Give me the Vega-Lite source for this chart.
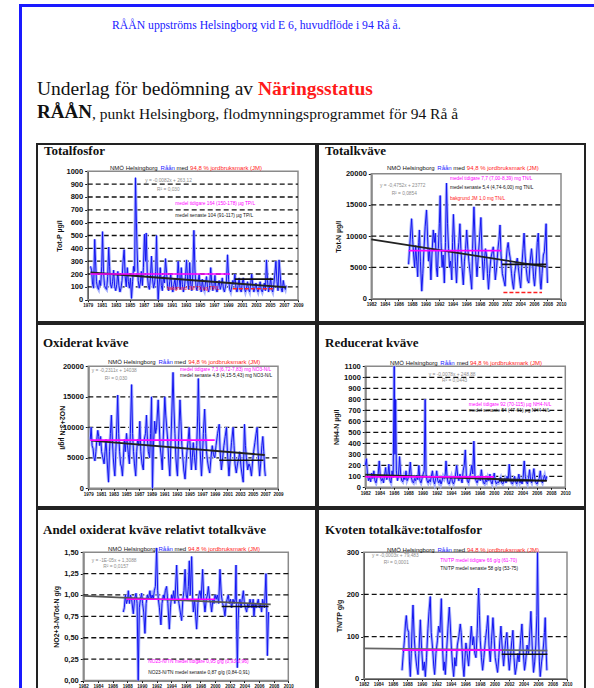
{
"$schema": "https://vega.github.io/schema/vega-lite/v6.json",
"padding": {"left": 19, "top": 4, "right": 0, "bottom": 0},
"background": "white",
"spacing": 0,
"config": {
  "view": {"stroke": null},
  "font": "Liberation Sans",
  "axis": {"grid": false, "domainColor": "#111", "domainWidth": 1.2, "tickColor": "#111", "tickSize": 3, "tickWidth": 1, "labelColor": "#111", "labelFont": "Liberation Sans", "labelFontWeight": "bold", "labelPadding": 2, "labelOverlap": false, "labelFlush": false, "labelBound": false, "titleFont": "Liberation Sans", "titleFontWeight": "bold", "titleFontSize": 7, "titleColor": "#111", "titlePadding": 4},
  "axisX": {"labelFontSize": 4.5, "tickSize": 2, "labelPadding": 1},
  "axisY": {"labelFontSize": 7.5},
  "text": {"font": "Liberation Sans", "fontSize": 4.8, "align": "left", "baseline": "middle"},
  "title": {"anchor": "start", "frame": "group", "baseline": "alphabetic", "font": "Liberation Serif", "fontWeight": "bold", "fontSize": 13, "color": "#111"}
},
"datasets": {
"tp": [{"t":1979.4,"v":260},{"t":1979.55,"v":230},{"t":1979.7,"v":120},{"t":1979.85,"v":90},{"t":1980.0,"v":470},{"t":1980.12,"v":300},{"t":1980.25,"v":140},{"t":1980.4,"v":95},{"t":1980.55,"v":80},{"t":1980.7,"v":150},{"t":1980.85,"v":110},{"t":1981.0,"v":260},{"t":1981.12,"v":530},{"t":1981.25,"v":220},{"t":1981.4,"v":110},{"t":1981.55,"v":90},{"t":1981.7,"v":80},{"t":1981.85,"v":180},{"t":1982.0,"v":410},{"t":1982.12,"v":260},{"t":1982.25,"v":120},{"t":1982.4,"v":90},{"t":1982.55,"v":140},{"t":1982.7,"v":230},{"t":1982.85,"v":100},{"t":1983.0,"v":70},{"t":1983.15,"v":120},{"t":1983.3,"v":220},{"t":1983.45,"v":110},{"t":1983.6,"v":60},{"t":1983.75,"v":90},{"t":1983.9,"v":150},{"t":1984.05,"v":300},{"t":1984.2,"v":390},{"t":1984.35,"v":180},{"t":1984.5,"v":100},{"t":1984.65,"v":250},{"t":1984.8,"v":140},{"t":1984.95,"v":90},{"t":1985.1,"v":170},{"t":1985.25,"v":10},{"t":1985.4,"v":140},{"t":1985.55,"v":260},{"t":1985.7,"v":220},{"t":1985.82,"v":950},{"t":1985.95,"v":600},{"t":1986.05,"v":380},{"t":1986.2,"v":150},{"t":1986.35,"v":90},{"t":1986.5,"v":130},{"t":1986.65,"v":220},{"t":1986.8,"v":110},{"t":1986.95,"v":250},{"t":1987.1,"v":510},{"t":1987.25,"v":300},{"t":1987.35,"v":520},{"t":1987.5,"v":200},{"t":1987.65,"v":110},{"t":1987.8,"v":80},{"t":1987.95,"v":170},{"t":1988.1,"v":340},{"t":1988.25,"v":160},{"t":1988.4,"v":90},{"t":1988.55,"v":130},{"t":1988.7,"v":220},{"t":1988.82,"v":500},{"t":1988.95,"v":160},{"t":1989.05,"v":0},{"t":1989.2,"v":130},{"t":1989.35,"v":250},{"t":1989.5,"v":110},{"t":1989.65,"v":70},{"t":1989.8,"v":180},{"t":1989.95,"v":130},{"t":1990.1,"v":320},{"t":1990.25,"v":210},{"t":1990.4,"v":100},{"t":1990.55,"v":70},{"t":1990.7,"v":140},{"t":1990.85,"v":200},{"t":1991.0,"v":90},{"t":1991.15,"v":60},{"t":1991.3,"v":120},{"t":1991.45,"v":160},{"t":1991.6,"v":80},{"t":1991.75,"v":110},{"t":1991.9,"v":300},{"t":1992.05,"v":170},{"t":1992.2,"v":80},{"t":1992.35,"v":250},{"t":1992.5,"v":120},{"t":1992.65,"v":60},{"t":1992.8,"v":100},{"t":1992.95,"v":180},{"t":1993.1,"v":310},{"t":1993.25,"v":150},{"t":1993.4,"v":80},{"t":1993.55,"v":290},{"t":1993.7,"v":120},{"t":1993.85,"v":70},{"t":1994.0,"v":200},{"t":1994.15,"v":540},{"t":1994.3,"v":230},{"t":1994.45,"v":100},{"t":1994.6,"v":70},{"t":1994.75,"v":140},{"t":1994.9,"v":200},{"t":1995.05,"v":100},{"t":1995.2,"v":60},{"t":1995.35,"v":160},{"t":1995.5,"v":90},{"t":1995.65,"v":70},{"t":1995.8,"v":130},{"t":1995.95,"v":180},{"t":1996.1,"v":90},{"t":1996.25,"v":60},{"t":1996.4,"v":110},{"t":1996.55,"v":250},{"t":1996.7,"v":130},{"t":1996.85,"v":70},{"t":1997.0,"v":100},{"t":1997.15,"v":190},{"t":1997.3,"v":90},{"t":1997.45,"v":60},{"t":1997.6,"v":110},{"t":1997.75,"v":150},{"t":1997.9,"v":80},{"t":1998.05,"v":110},{"t":1998.2,"v":170},{"t":1998.35,"v":90},{"t":1998.5,"v":60},{"t":1998.65,"v":100},{"t":1998.8,"v":140},{"t":1998.95,"v":350},{"t":1999.1,"v":160},{"t":1999.25,"v":80},{"t":1999.4,"v":60},{"t":1999.55,"v":100},{"t":1999.7,"v":150},{"t":1999.85,"v":120},{"t":2000.0,"v":200},{"t":2000.15,"v":90},{"t":2000.3,"v":60},{"t":2000.45,"v":110},{"t":2000.6,"v":170},{"t":2000.75,"v":80},{"t":2000.9,"v":60},{"t":2001.05,"v":130},{"t":2001.2,"v":170},{"t":2001.35,"v":90},{"t":2001.5,"v":60},{"t":2001.65,"v":90},{"t":2001.8,"v":140},{"t":2001.95,"v":80},{"t":2002.1,"v":60},{"t":2002.25,"v":120},{"t":2002.4,"v":200},{"t":2002.55,"v":110},{"t":2002.7,"v":60},{"t":2002.85,"v":90},{"t":2003.0,"v":130},{"t":2003.15,"v":80},{"t":2003.3,"v":60},{"t":2003.45,"v":100},{"t":2003.6,"v":140},{"t":2003.75,"v":80},{"t":2003.9,"v":60},{"t":2004.05,"v":90},{"t":2004.2,"v":130},{"t":2004.35,"v":70},{"t":2004.5,"v":310},{"t":2004.65,"v":150},{"t":2004.8,"v":60},{"t":2004.95,"v":100},{"t":2005.1,"v":170},{"t":2005.25,"v":80},{"t":2005.4,"v":60},{"t":2005.55,"v":120},{"t":2005.7,"v":200},{"t":2005.85,"v":300},{"t":2006.0,"v":140},{"t":2006.15,"v":70},{"t":2006.3,"v":310},{"t":2006.45,"v":200},{"t":2006.6,"v":90},{"t":2006.75,"v":60},{"t":2006.9,"v":150},{"t":2007.05,"v":100},{"t":2007.2,"v":80},{"t":2007.3,"v":110}],
"tn": [{"t":1987.5,"v":5500},{"t":1987.65,"v":8000},{"t":1987.8,"v":10500},{"t":1987.95,"v":12800},{"t":1988.1,"v":9500},{"t":1988.25,"v":7000},{"t":1988.4,"v":5000},{"t":1988.55,"v":8500},{"t":1988.7,"v":6000},{"t":1988.85,"v":3500},{"t":1989.0,"v":9000},{"t":1989.1,"v":11000},{"t":1989.25,"v":6000},{"t":1989.45,"v":1200},{"t":1989.6,"v":4000},{"t":1989.75,"v":7500},{"t":1989.95,"v":11500},{"t":1990.15,"v":14200},{"t":1990.3,"v":10000},{"t":1990.45,"v":6000},{"t":1990.6,"v":8000},{"t":1990.8,"v":3000},{"t":1990.95,"v":7000},{"t":1991.15,"v":11000},{"t":1991.3,"v":9000},{"t":1991.45,"v":10500},{"t":1991.6,"v":5000},{"t":1991.75,"v":3500},{"t":1991.9,"v":8000},{"t":1992.05,"v":12000},{"t":1992.17,"v":16500},{"t":1992.3,"v":9000},{"t":1992.45,"v":5000},{"t":1992.6,"v":7000},{"t":1992.78,"v":2500},{"t":1992.95,"v":9000},{"t":1993.1,"v":18500},{"t":1993.25,"v":12000},{"t":1993.4,"v":8000},{"t":1993.55,"v":5000},{"t":1993.7,"v":6000},{"t":1993.88,"v":3000},{"t":1994.0,"v":9000},{"t":1994.12,"v":13500},{"t":1994.25,"v":10000},{"t":1994.4,"v":6000},{"t":1994.58,"v":2500},{"t":1994.75,"v":7000},{"t":1994.92,"v":9000},{"t":1995.08,"v":12000},{"t":1995.22,"v":8000},{"t":1995.4,"v":5000},{"t":1995.58,"v":2200},{"t":1995.75,"v":6000},{"t":1995.92,"v":8000},{"t":1996.08,"v":11000},{"t":1996.25,"v":8000},{"t":1996.4,"v":6000},{"t":1996.6,"v":4000},{"t":1996.82,"v":1500},{"t":1996.95,"v":8000},{"t":1997.15,"v":14700},{"t":1997.3,"v":10000},{"t":1997.45,"v":6000},{"t":1997.6,"v":3500},{"t":1997.8,"v":7000},{"t":1998.0,"v":10000},{"t":1998.18,"v":13000},{"t":1998.35,"v":7000},{"t":1998.55,"v":3000},{"t":1998.7,"v":6000},{"t":1998.85,"v":8000},{"t":1999.0,"v":7000},{"t":1999.15,"v":4000},{"t":1999.3,"v":1500},{"t":1999.45,"v":4000},{"t":1999.65,"v":6500},{"t":1999.85,"v":7500},{"t":2000.0,"v":8300},{"t":2000.15,"v":6000},{"t":2000.3,"v":3000},{"t":2000.5,"v":5000},{"t":2000.7,"v":8000},{"t":2000.85,"v":9500},{"t":2001.0,"v":11800},{"t":2001.15,"v":7000},{"t":2001.35,"v":4000},{"t":2001.55,"v":3000},{"t":2001.75,"v":2000},{"t":2001.9,"v":6000},{"t":2002.05,"v":8000},{"t":2002.2,"v":9000},{"t":2002.35,"v":7500},{"t":2002.5,"v":6500},{"t":2002.7,"v":4000},{"t":2002.85,"v":2500},{"t":2003.0,"v":1500},{"t":2003.15,"v":4000},{"t":2003.35,"v":5500},{"t":2003.55,"v":6500},{"t":2003.7,"v":5000},{"t":2003.9,"v":3000},{"t":2004.05,"v":1700},{"t":2004.2,"v":5000},{"t":2004.4,"v":8000},{"t":2004.55,"v":10500},{"t":2004.7,"v":7000},{"t":2004.85,"v":5000},{"t":2005.05,"v":3000},{"t":2005.25,"v":2500},{"t":2005.45,"v":6000},{"t":2005.65,"v":8000},{"t":2005.8,"v":6000},{"t":2005.95,"v":3500},{"t":2006.1,"v":2000},{"t":2006.3,"v":5000},{"t":2006.5,"v":9000},{"t":2006.65,"v":10500},{"t":2006.8,"v":6000},{"t":2006.95,"v":2500},{"t":2007.05,"v":1500},{"t":2007.2,"v":4000},{"t":2007.4,"v":7000},{"t":2007.55,"v":7500},{"t":2007.7,"v":10000},{"t":2007.8,"v":12000},{"t":2007.9,"v":6000},{"t":2008.0,"v":2500}],
"no3": [{"t":1979.3,"v":8000},{"t":1979.45,"v":10000},{"t":1979.6,"v":7000},{"t":1979.75,"v":6500},{"t":1979.9,"v":5000},{"t":1980.05,"v":4500},{"t":1980.2,"v":6000},{"t":1980.35,"v":8000},{"t":1980.5,"v":9500},{"t":1980.65,"v":8500},{"t":1980.8,"v":7000},{"t":1980.95,"v":8500},{"t":1981.1,"v":6000},{"t":1981.3,"v":5000},{"t":1981.5,"v":4000},{"t":1981.65,"v":6000},{"t":1981.8,"v":8000},{"t":1981.95,"v":5000},{"t":1982.1,"v":2500},{"t":1982.2,"v":1000},{"t":1982.35,"v":6000},{"t":1982.5,"v":9000},{"t":1982.65,"v":12000},{"t":1982.8,"v":8000},{"t":1982.95,"v":5000},{"t":1983.1,"v":3000},{"t":1983.2,"v":2000},{"t":1983.35,"v":6000},{"t":1983.5,"v":10000},{"t":1983.65,"v":15300},{"t":1983.8,"v":9000},{"t":1983.95,"v":6000},{"t":1984.1,"v":4000},{"t":1984.25,"v":3500},{"t":1984.4,"v":2000},{"t":1984.55,"v":5000},{"t":1984.7,"v":8000},{"t":1984.85,"v":6000},{"t":1985.05,"v":9000},{"t":1985.2,"v":7000},{"t":1985.35,"v":5500},{"t":1985.5,"v":4000},{"t":1985.65,"v":9000},{"t":1985.85,"v":17000},{"t":1986.0,"v":9000},{"t":1986.15,"v":6000},{"t":1986.3,"v":4000},{"t":1986.5,"v":2000},{"t":1986.65,"v":6000},{"t":1986.8,"v":8000},{"t":1987.0,"v":7000},{"t":1987.15,"v":11000},{"t":1987.3,"v":6000},{"t":1987.5,"v":4000},{"t":1987.7,"v":3000},{"t":1987.85,"v":8000},{"t":1988.05,"v":9000},{"t":1988.2,"v":12000},{"t":1988.35,"v":8000},{"t":1988.5,"v":6000},{"t":1988.7,"v":5000},{"t":1988.85,"v":9000},{"t":1989.0,"v":15000},{"t":1989.15,"v":0},{"t":1989.3,"v":7000},{"t":1989.5,"v":11000},{"t":1989.65,"v":9000},{"t":1989.8,"v":10000},{"t":1990.05,"v":14500},{"t":1990.2,"v":11000},{"t":1990.35,"v":7000},{"t":1990.55,"v":5000},{"t":1990.7,"v":3000},{"t":1990.85,"v":8000},{"t":1991.1,"v":15000},{"t":1991.25,"v":12000},{"t":1991.4,"v":10000},{"t":1991.55,"v":8000},{"t":1991.75,"v":4000},{"t":1991.9,"v":2000},{"t":1992.05,"v":7000},{"t":1992.2,"v":12000},{"t":1992.4,"v":19000},{"t":1992.55,"v":13000},{"t":1992.7,"v":9000},{"t":1992.85,"v":5000},{"t":1993.0,"v":3000},{"t":1993.1,"v":2000},{"t":1993.25,"v":7000},{"t":1993.5,"v":14500},{"t":1993.65,"v":11000},{"t":1993.8,"v":7000},{"t":1993.95,"v":5000},{"t":1994.1,"v":3000},{"t":1994.3,"v":1500},{"t":1994.45,"v":4000},{"t":1994.6,"v":6000},{"t":1994.8,"v":8000},{"t":1994.95,"v":10000},{"t":1995.1,"v":7000},{"t":1995.3,"v":3000},{"t":1995.45,"v":5000},{"t":1995.6,"v":7500},{"t":1995.8,"v":5000},{"t":1996.0,"v":3000},{"t":1996.15,"v":7000},{"t":1996.3,"v":12000},{"t":1996.4,"v":18000},{"t":1996.55,"v":11000},{"t":1996.7,"v":6000},{"t":1996.9,"v":2000},{"t":1997.05,"v":5000},{"t":1997.2,"v":9000},{"t":1997.4,"v":13000},{"t":1997.55,"v":9000},{"t":1997.7,"v":6000},{"t":1997.85,"v":4500},{"t":1998.0,"v":3500},{"t":1998.2,"v":2500},{"t":1998.4,"v":5000},{"t":1998.6,"v":7000},{"t":1998.8,"v":5500},{"t":1999.0,"v":5000},{"t":1999.2,"v":7000},{"t":1999.45,"v":9000},{"t":1999.7,"v":10500},{"t":1999.85,"v":6000},{"t":2000.05,"v":3000},{"t":2000.25,"v":5000},{"t":2000.45,"v":7000},{"t":2000.65,"v":8500},{"t":2000.85,"v":10000},{"t":2001.0,"v":6000},{"t":2001.15,"v":3500},{"t":2001.25,"v":2000},{"t":2001.45,"v":5000},{"t":2001.65,"v":7500},{"t":2001.9,"v":10000},{"t":2002.05,"v":7000},{"t":2002.2,"v":4000},{"t":2002.4,"v":2500},{"t":2002.6,"v":4000},{"t":2002.8,"v":5000},{"t":2002.95,"v":6000},{"t":2003.15,"v":3500},{"t":2003.35,"v":2000},{"t":2003.5,"v":1000},{"t":2003.6,"v":6000},{"t":2003.7,"v":10500},{"t":2003.85,"v":7000},{"t":2004.0,"v":5000},{"t":2004.2,"v":3000},{"t":2004.4,"v":4000},{"t":2004.6,"v":3500},{"t":2004.8,"v":2000},{"t":2004.95,"v":4000},{"t":2005.15,"v":6000},{"t":2005.35,"v":7500},{"t":2005.55,"v":9000},{"t":2005.7,"v":10000},{"t":2005.85,"v":6000},{"t":2006.0,"v":3500},{"t":2006.1,"v":2000},{"t":2006.25,"v":4000},{"t":2006.45,"v":7000},{"t":2006.6,"v":8500},{"t":2006.75,"v":6000},{"t":2006.9,"v":3000},{"t":2007.0,"v":2000}],
"nh4": [{"t":1982.0,"v":200},{"t":1982.15,"v":260},{"t":1982.3,"v":120},{"t":1982.45,"v":60},{"t":1982.6,"v":90},{"t":1982.75,"v":50},{"t":1982.9,"v":130},{"t":1983.05,"v":80},{"t":1983.2,"v":150},{"t":1983.35,"v":60},{"t":1983.5,"v":40},{"t":1983.65,"v":90},{"t":1983.8,"v":120},{"t":1983.95,"v":240},{"t":1984.1,"v":100},{"t":1984.25,"v":60},{"t":1984.4,"v":80},{"t":1984.55,"v":40},{"t":1984.7,"v":110},{"t":1984.85,"v":180},{"t":1985.0,"v":70},{"t":1985.15,"v":100},{"t":1985.3,"v":210},{"t":1985.45,"v":60},{"t":1985.6,"v":40},{"t":1985.75,"v":150},{"t":1985.9,"v":90},{"t":1986.05,"v":1100},{"t":1986.15,"v":300},{"t":1986.25,"v":800},{"t":1986.35,"v":150},{"t":1986.5,"v":60},{"t":1986.65,"v":100},{"t":1986.8,"v":280},{"t":1986.95,"v":120},{"t":1987.1,"v":60},{"t":1987.25,"v":50},{"t":1987.4,"v":100},{"t":1987.55,"v":70},{"t":1987.7,"v":150},{"t":1987.85,"v":60},{"t":1988.0,"v":80},{"t":1988.15,"v":120},{"t":1988.3,"v":230},{"t":1988.45,"v":90},{"t":1988.6,"v":50},{"t":1988.75,"v":40},{"t":1988.9,"v":80},{"t":1989.05,"v":60},{"t":1989.2,"v":110},{"t":1989.35,"v":70},{"t":1989.5,"v":200},{"t":1989.65,"v":60},{"t":1989.8,"v":40},{"t":1989.95,"v":80},{"t":1990.1,"v":120},{"t":1990.25,"v":150},{"t":1990.38,"v":800},{"t":1990.5,"v":120},{"t":1990.65,"v":60},{"t":1990.8,"v":40},{"t":1990.95,"v":70},{"t":1991.1,"v":50},{"t":1991.25,"v":100},{"t":1991.4,"v":150},{"t":1991.55,"v":60},{"t":1991.7,"v":30},{"t":1991.85,"v":80},{"t":1992.0,"v":150},{"t":1992.15,"v":60},{"t":1992.3,"v":40},{"t":1992.45,"v":70},{"t":1992.6,"v":30},{"t":1992.75,"v":60},{"t":1992.9,"v":100},{"t":1993.05,"v":80},{"t":1993.2,"v":120},{"t":1993.3,"v":240},{"t":1993.45,"v":90},{"t":1993.6,"v":40},{"t":1993.75,"v":30},{"t":1993.9,"v":70},{"t":1994.05,"v":100},{"t":1994.2,"v":50},{"t":1994.35,"v":30},{"t":1994.5,"v":60},{"t":1994.65,"v":120},{"t":1994.8,"v":200},{"t":1994.95,"v":90},{"t":1995.1,"v":60},{"t":1995.25,"v":120},{"t":1995.4,"v":80},{"t":1995.55,"v":40},{"t":1995.7,"v":150},{"t":1995.85,"v":200},{"t":1996.0,"v":340},{"t":1996.15,"v":100},{"t":1996.3,"v":60},{"t":1996.45,"v":40},{"t":1996.6,"v":90},{"t":1996.75,"v":130},{"t":1996.9,"v":200},{"t":1997.05,"v":120},{"t":1997.2,"v":420},{"t":1997.35,"v":100},{"t":1997.5,"v":60},{"t":1997.65,"v":40},{"t":1997.8,"v":70},{"t":1997.95,"v":90},{"t":1998.1,"v":60},{"t":1998.25,"v":160},{"t":1998.4,"v":80},{"t":1998.55,"v":40},{"t":1998.7,"v":30},{"t":1998.85,"v":70},{"t":1999.0,"v":50},{"t":1999.15,"v":90},{"t":1999.3,"v":60},{"t":1999.45,"v":120},{"t":1999.6,"v":50},{"t":1999.75,"v":30},{"t":1999.9,"v":80},{"t":2000.05,"v":130},{"t":2000.2,"v":60},{"t":2000.35,"v":30},{"t":2000.5,"v":50},{"t":2000.65,"v":40},{"t":2000.8,"v":70},{"t":2000.95,"v":90},{"t":2001.1,"v":40},{"t":2001.25,"v":30},{"t":2001.4,"v":60},{"t":2001.55,"v":80},{"t":2001.7,"v":40},{"t":2001.85,"v":100},{"t":2002.0,"v":60},{"t":2002.15,"v":210},{"t":2002.3,"v":80},{"t":2002.45,"v":40},{"t":2002.6,"v":30},{"t":2002.75,"v":60},{"t":2002.9,"v":100},{"t":2003.05,"v":50},{"t":2003.2,"v":30},{"t":2003.35,"v":70},{"t":2003.5,"v":120},{"t":2003.65,"v":40},{"t":2003.8,"v":60},{"t":2003.95,"v":30},{"t":2004.1,"v":90},{"t":2004.25,"v":240},{"t":2004.4,"v":100},{"t":2004.55,"v":50},{"t":2004.7,"v":30},{"t":2004.85,"v":80},{"t":2005.0,"v":160},{"t":2005.15,"v":60},{"t":2005.3,"v":40},{"t":2005.45,"v":100},{"t":2005.6,"v":170},{"t":2005.75,"v":70},{"t":2005.9,"v":40},{"t":2006.05,"v":30},{"t":2006.2,"v":60},{"t":2006.35,"v":80},{"t":2006.5,"v":150},{"t":2006.65,"v":60},{"t":2006.8,"v":40},{"t":2006.95,"v":80},{"t":2007.1,"v":110},{"t":2007.25,"v":60},{"t":2007.4,"v":100}],
"frac": [{"t":1987.46,"v":0.8},{"t":1987.6,"v":0.85},{"t":1987.75,"v":1.0},{"t":1987.9,"v":0.9},{"t":1988.05,"v":0.95},{"t":1988.15,"v":1.05},{"t":1988.3,"v":0.9},{"t":1988.45,"v":1.0},{"t":1988.6,"v":0.95},{"t":1988.83,"v":0.78},{"t":1989.0,"v":0.95},{"t":1989.2,"v":1.02},{"t":1989.35,"v":0.9},{"t":1989.5,"v":0.0},{"t":1989.65,"v":0.85},{"t":1989.8,"v":0.95},{"t":1989.97,"v":1.02},{"t":1990.1,"v":0.9},{"t":1990.25,"v":0.8},{"t":1990.42,"v":0.55},{"t":1990.58,"v":0.9},{"t":1990.74,"v":1.0},{"t":1990.9,"v":0.95},{"t":1991.1,"v":1.05},{"t":1991.25,"v":0.95},{"t":1991.4,"v":1.0},{"t":1991.56,"v":0.95},{"t":1991.7,"v":1.05},{"t":1991.85,"v":1.1},{"t":1992.02,"v":1.55},{"t":1992.15,"v":1.05},{"t":1992.25,"v":0.95},{"t":1992.4,"v":0.85},{"t":1992.6,"v":0.65},{"t":1992.75,"v":0.9},{"t":1992.93,"v":1.0},{"t":1993.05,"v":0.95},{"t":1993.2,"v":1.05},{"t":1993.38,"v":1.1},{"t":1993.55,"v":0.9},{"t":1993.75,"v":0.6},{"t":1993.9,"v":0.85},{"t":1994.07,"v":1.0},{"t":1994.2,"v":0.95},{"t":1994.35,"v":1.05},{"t":1994.5,"v":0.9},{"t":1994.75,"v":1.35},{"t":1994.9,"v":1.0},{"t":1995.07,"v":0.9},{"t":1995.25,"v":0.8},{"t":1995.43,"v":0.7},{"t":1995.6,"v":0.95},{"t":1995.75,"v":1.05},{"t":1995.9,"v":1.3},{"t":1996.05,"v":1.0},{"t":1996.2,"v":0.95},{"t":1996.35,"v":1.1},{"t":1996.48,"v":1.4},{"t":1996.6,"v":1.0},{"t":1996.8,"v":1.45},{"t":1996.92,"v":1.0},{"t":1997.03,"v":0.8},{"t":1997.2,"v":0.95},{"t":1997.35,"v":0.75},{"t":1997.48,"v":0.6},{"t":1997.65,"v":0.9},{"t":1997.8,"v":1.0},{"t":1997.94,"v":1.05},{"t":1998.1,"v":0.95},{"t":1998.3,"v":1.3},{"t":1998.45,"v":0.95},{"t":1998.62,"v":0.8},{"t":1998.8,"v":0.95},{"t":1998.95,"v":1.0},{"t":1999.08,"v":1.1},{"t":1999.25,"v":0.95},{"t":1999.4,"v":0.9},{"t":1999.53,"v":0.8},{"t":1999.7,"v":0.95},{"t":1999.85,"v":0.9},{"t":1999.99,"v":1.0},{"t":2000.15,"v":0.95},{"t":2000.3,"v":1.0},{"t":2000.5,"v":0.9},{"t":2000.67,"v":1.3},{"t":2000.85,"v":1.0},{"t":2001.03,"v":0.9},{"t":2001.2,"v":0.85},{"t":2001.35,"v":0.75},{"t":2001.5,"v":0.9},{"t":2001.65,"v":0.95},{"t":2001.8,"v":1.0},{"t":2001.95,"v":0.9},{"t":2002.1,"v":0.95},{"t":2002.26,"v":0.85},{"t":2002.45,"v":0.95},{"t":2002.6,"v":0.9},{"t":2002.75,"v":0.95},{"t":2002.86,"v":1.35},{"t":2002.95,"v":0.6},{"t":2003.04,"v":0.15},{"t":2003.15,"v":0.7},{"t":2003.25,"v":0.9},{"t":2003.4,"v":0.95},{"t":2003.55,"v":0.85},{"t":2003.7,"v":0.95},{"t":2003.86,"v":1.05},{"t":2004.0,"v":0.9},{"t":2004.15,"v":0.85},{"t":2004.31,"v":0.8},{"t":2004.45,"v":0.9},{"t":2004.6,"v":0.85},{"t":2004.77,"v":0.95},{"t":2004.9,"v":0.9},{"t":2005.05,"v":0.85},{"t":2005.2,"v":0.95},{"t":2005.31,"v":0.75},{"t":2005.45,"v":0.9},{"t":2005.6,"v":0.85},{"t":2005.75,"v":0.9},{"t":2005.9,"v":0.95},{"t":2006.05,"v":0.85},{"t":2006.2,"v":0.9},{"t":2006.35,"v":0.8},{"t":2006.5,"v":0.95},{"t":2006.6,"v":0.9},{"t":2006.75,"v":0.85},{"t":2006.95,"v":1.25},{"t":2007.05,"v":0.85},{"t":2007.14,"v":0.29},{"t":2007.3,"v":0.8}],
"np": [{"t":1987.28,"v":20},{"t":1987.45,"v":60},{"t":1987.6,"v":90},{"t":1987.75,"v":130},{"t":1987.87,"v":150},{"t":1988.0,"v":120},{"t":1988.19,"v":110},{"t":1988.3,"v":40},{"t":1988.42,"v":5},{"t":1988.55,"v":60},{"t":1988.7,"v":140},{"t":1988.79,"v":175},{"t":1988.95,"v":100},{"t":1989.11,"v":60},{"t":1989.3,"v":30},{"t":1989.48,"v":10},{"t":1989.6,"v":60},{"t":1989.8,"v":140},{"t":1989.95,"v":80},{"t":1990.17,"v":20},{"t":1990.35,"v":40},{"t":1990.49,"v":5},{"t":1990.65,"v":50},{"t":1990.85,"v":120},{"t":1991.0,"v":160},{"t":1991.17,"v":195},{"t":1991.3,"v":110},{"t":1991.5,"v":70},{"t":1991.65,"v":30},{"t":1991.77,"v":10},{"t":1991.95,"v":60},{"t":1992.15,"v":90},{"t":1992.32,"v":125},{"t":1992.5,"v":110},{"t":1992.69,"v":190},{"t":1992.85,"v":80},{"t":1993.0,"v":20},{"t":1993.12,"v":40},{"t":1993.24,"v":10},{"t":1993.4,"v":60},{"t":1993.6,"v":120},{"t":1993.79,"v":170},{"t":1993.92,"v":130},{"t":1994.06,"v":80},{"t":1994.2,"v":40},{"t":1994.39,"v":5},{"t":1994.55,"v":50},{"t":1994.7,"v":30},{"t":1994.9,"v":80},{"t":1995.1,"v":100},{"t":1995.3,"v":130},{"t":1995.42,"v":110},{"t":1995.53,"v":75},{"t":1995.68,"v":30},{"t":1995.81,"v":5},{"t":1995.95,"v":50},{"t":1996.08,"v":85},{"t":1996.25,"v":60},{"t":1996.45,"v":30},{"t":1996.6,"v":70},{"t":1996.82,"v":125},{"t":1997.0,"v":80},{"t":1997.14,"v":100},{"t":1997.3,"v":60},{"t":1997.46,"v":50},{"t":1997.65,"v":120},{"t":1997.83,"v":215},{"t":1997.95,"v":150},{"t":1998.06,"v":90},{"t":1998.22,"v":50},{"t":1998.38,"v":20},{"t":1998.55,"v":50},{"t":1998.75,"v":90},{"t":1998.95,"v":120},{"t":1999.11,"v":150},{"t":1999.25,"v":80},{"t":1999.43,"v":40},{"t":1999.6,"v":90},{"t":1999.8,"v":145},{"t":1999.95,"v":100},{"t":2000.12,"v":50},{"t":2000.3,"v":30},{"t":2000.44,"v":15},{"t":2000.6,"v":50},{"t":2000.75,"v":90},{"t":2000.9,"v":125},{"t":2001.05,"v":80},{"t":2001.27,"v":30},{"t":2001.4,"v":60},{"t":2001.55,"v":90},{"t":2001.72,"v":110},{"t":2001.88,"v":60},{"t":2002.05,"v":20},{"t":2002.2,"v":50},{"t":2002.4,"v":90},{"t":2002.55,"v":115},{"t":2002.7,"v":50},{"t":2002.87,"v":10},{"t":2003.05,"v":30},{"t":2003.24,"v":60},{"t":2003.4,"v":40},{"t":2003.6,"v":90},{"t":2003.79,"v":130},{"t":2003.95,"v":70},{"t":2004.15,"v":20},{"t":2004.3,"v":40},{"t":2004.5,"v":80},{"t":2004.7,"v":60},{"t":2004.85,"v":100},{"t":2005.03,"v":160},{"t":2005.2,"v":80},{"t":2005.39,"v":15},{"t":2005.55,"v":40},{"t":2005.7,"v":80},{"t":2005.85,"v":150},{"t":2005.94,"v":300},{"t":2006.08,"v":100},{"t":2006.2,"v":40},{"t":2006.31,"v":5},{"t":2006.5,"v":40},{"t":2006.65,"v":60},{"t":2006.77,"v":80},{"t":2006.9,"v":110},{"t":2007.0,"v":145},{"t":2007.1,"v":80},{"t":2007.23,"v":20}]
},
"vconcat": [
 {"width": 575, "height": 1, "data": {"values": []}, "mark": {"type": "point", "opacity": 0}, "encoding": {}, "view": {"stroke": "#1a1aff", "strokeWidth": 2}},
 {"hconcat": [
  {"width": 1, "height": 700, "data": {"values": []}, "mark": {"type": "point", "opacity": 0}, "encoding": {}, "view": {"stroke": "#1a1aff", "strokeWidth": 2}},
  {"vconcat": [
   {"width": 546, "height": 50, "data": {"values": []}, "mark": {"type": "point", "opacity": 0}, "encoding": {},
    "title": {"text": "RÅÅN uppströms Helsingborg vid E 6, huvudflöde i 94 Rå å.", "offset": -23.5, "dx": 75, "fontSize": 11.7, "fontWeight": "normal", "color": "#2020ff"}},
   {"hconcat": [
     {"width": 221, "height": 45, "data": {"values": []}, "mark": {"type": "point", "opacity": 0}, "encoding": {},
      "title": {"text": "Underlag för bedömning av", "offset": -41, "fontSize": 19.5, "fontWeight": "normal", "color": "#111"}},
     {"width": 325, "height": 45, "data": {"values": []}, "mark": {"type": "point", "opacity": 0}, "encoding": {},
      "title": {"text": "Näringsstatus", "offset": -41, "fontSize": 19.5, "fontWeight": "bold", "color": "#ff1a1a"}}
    ], "spacing": 0},
   {"hconcat": [
     {"width": 55, "height": 33, "data": {"values": []}, "mark": {"type": "point", "opacity": 0}, "encoding": {},
      "title": {"text": "RÅÅN", "offset": -12, "fontSize": 19, "fontWeight": "bold", "color": "#111"}},
     {"width": 491, "height": 33, "data": {"values": []}, "mark": {"type": "point", "opacity": 0}, "encoding": {},
      "title": {"text": ", punkt Helsingborg, flodmynningsprogrammet för 94 Rå å", "offset": -12, "fontSize": 15.5, "fontWeight": "normal", "color": "#111"}}
    ], "spacing": 0},
   {"hconcat": [
     {"width": 279, "height": 178, "view": {"stroke": "#222", "strokeWidth": 2},
      "title": {"text": "Totalfosfor", "offset": -14, "dx": 7},
      "data": {"values": [{}]},
      "layer": [
       {"mark": {"type": "rect", "fill": "transparent", "stroke": "#8a8a8a", "strokeWidth": 1.5},
        "encoding": {
         "x": {"datum": 1979, "type": "quantitative", "scale": {"domain": [1979, 2009], "range": [50.7, 261], "nice": false, "zero": false}, "axis": {"values": [1979,1981,1983,1985,1987,1989,1991,1993,1995,1997,1999,2001,2003,2005,2007,2009], "tickCount": 100, "format": "d", "offset": -22.3, "title": null, "labelOverlap": false}},
         "x2": {"datum": 2009},
         "y": {"datum": 0, "type": "quantitative", "scale": {"domain": [0, 1000], "range": [155.7, 27.3], "nice": false, "zero": false}, "axis": {"values": [0,100,200,300,400,500,600,700,800,900,1000], "tickCount": 100, "format": "d", "offset": -50.7, "title": "Tot-P µg/l", "labelOverlap": false}},
         "y2": {"datum": 1000}}},
       {"data": {"values": [{"g":100},{"g":200},{"g":300},{"g":400},{"g":500},{"g":600},{"g":700},{"g":800},{"g":900}]}, "mark": {"type": "rule", "strokeDash": [5,3], "strokeWidth": 1.3, "color": "#111"}, "encoding": {"y": {"field": "g", "type": "quantitative"}, "x": {"datum": 1979}, "x2": {"datum": 2009}}},
       {"data": {"name": "tp"}, "mark": {"type": "line", "color": "#a9b3ff", "strokeWidth": 3}, "encoding": {"x": {"field": "t", "type": "quantitative"}, "y": {"field": "v", "type": "quantitative"}}},
       {"data": {"name": "tp"}, "mark": {"type": "line", "color": "#1414f0", "strokeWidth": 1}, "encoding": {"x": {"field": "t", "type": "quantitative"}, "y": {"field": "v", "type": "quantitative"}}},
       {"data": {"values": [{"t":1979.4,"v":212},{"t":2007.3,"v":97}]}, "mark": {"type": "line", "color": "#222", "strokeWidth": 1.8}, "encoding": {"x": {"field": "t", "type": "quantitative"}, "y": {"field": "v", "type": "quantitative"}}},
       {"mark": {"type": "rule", "color": "#ff00ff", "strokeWidth": 1.6}, "encoding": {"x": {"datum": 1979.4}, "x2": {"datum": 1999.3}, "y": {"datum": 200}}},
       {"mark": {"type": "rule", "color": "#111", "strokeWidth": 1.6}, "encoding": {"x": {"datum": 2000}, "x2": {"datum": 2005.5}, "y": {"datum": 160}}},
       {"mark": {"type": "rule", "color": "#ff2020", "strokeWidth": 1.6, "strokeDash": [4,2]}, "encoding": {"x": {"datum": 1999.7}, "x2": {"datum": 2005.7}, "y": {"datum": 85}}},
       {"mark": {"type": "text", "text": "NMÖ Helsingborg", "fontSize": 6, "color": "#111"}, "encoding": {"x": {"datum": 1982.18}, "y": {"datum": 1025}}},
       {"mark": {"type": "text", "text": "Råån", "fontSize": 6, "color": "#1a1aff"}, "encoding": {"x": {"datum": 1989.4}, "y": {"datum": 1025}}},
       {"mark": {"type": "text", "text": "med", "fontSize": 6, "color": "#111"}, "encoding": {"x": {"datum": 1991.67}, "y": {"datum": 1025}}},
       {"mark": {"type": "text", "text": "94,8 % jordbruksmark (JM)", "fontSize": 6, "color": "#ff1a1a"}, "encoding": {"x": {"datum": 1993.6}, "y": {"datum": 1025}}},
       {"mark": {"type": "text", "text": "y = -0,0082x + 263,12", "color": "#8c8c8c"}, "encoding": {"x": {"datum": 1987.2}, "y": {"datum": 925}}},
       {"mark": {"type": "text", "text": "R² = 0,030", "color": "#8c8c8c"}, "encoding": {"x": {"datum": 1988.9}, "y": {"datum": 853}}},
       {"mark": {"type": "text", "text": "medel tidigare 164 (150-178) µg TP/L", "color": "#ff00ff"}, "encoding": {"x": {"datum": 1991.5}, "y": {"datum": 745}}},
       {"mark": {"type": "text", "text": "medel senaste 104 (91-117) µg TP/L", "color": "#111"}, "encoding": {"x": {"datum": 1991.5}, "y": {"datum": 650}}},
       {"mark": {"type": "text", "text": "bakgrund JM 79 µg TP/L", "color": "#ff1a1a"}, "encoding": {"x": {"datum": 1990.3}, "y": {"datum": 86}}}
      ]},
     {"width": 267, "height": 178, "view": {"stroke": "#222", "strokeWidth": 2},
      "title": {"text": "Totalkväve", "offset": -14, "dx": 7},
      "data": {"values": [{}]},
      "layer": [
       {"mark": {"type": "rect", "fill": "transparent", "stroke": "#8a8a8a", "strokeWidth": 1.5},
        "encoding": {
         "x": {"datum": 1982, "type": "quantitative", "scale": {"domain": [1982, 2010], "range": [53.3, 243], "nice": false, "zero": false}, "axis": {"values": [1982,1984,1986,1988,1990,1992,1994,1996,1998,2000,2002,2004,2006,2008,2010], "tickCount": 100, "format": "d", "offset": -23.3, "title": null, "labelOverlap": false}},
         "x2": {"datum": 2010},
         "y": {"datum": 0, "type": "quantitative", "scale": {"domain": [0, 20000], "range": [154.7, 29.7], "nice": false, "zero": false}, "axis": {"values": [0,5000,10000,15000,20000], "tickCount": 100, "format": "d", "offset": -53.3, "title": "Tot-N µg/l", "labelOverlap": false}},
         "y2": {"datum": 20000}}},
       {"data": {"values": [{"g":5000},{"g":10000},{"g":15000}]}, "mark": {"type": "rule", "strokeDash": [5,3], "strokeWidth": 1.3, "color": "#111"}, "encoding": {"y": {"field": "g", "type": "quantitative"}, "x": {"datum": 1982}, "x2": {"datum": 2010}}},
       {"data": {"name": "tn"}, "mark": {"type": "line", "color": "#a9b3ff", "strokeWidth": 3}, "encoding": {"x": {"field": "t", "type": "quantitative"}, "y": {"field": "v", "type": "quantitative"}}},
       {"data": {"name": "tn"}, "mark": {"type": "line", "color": "#1414f0", "strokeWidth": 1}, "encoding": {"x": {"field": "t", "type": "quantitative"}, "y": {"field": "v", "type": "quantitative"}}},
       {"data": {"values": [{"t":1982,"v":9500},{"t":2007.8,"v":5100}]}, "mark": {"type": "line", "color": "#222", "strokeWidth": 1.8}, "encoding": {"x": {"field": "t", "type": "quantitative"}, "y": {"field": "v", "type": "quantitative"}}},
       {"mark": {"type": "rule", "color": "#ff00ff", "strokeWidth": 1.6}, "encoding": {"x": {"datum": 1987.5}, "x2": {"datum": 2001.2}, "y": {"datum": 7700}}},
       {"mark": {"type": "rule", "color": "#111", "strokeWidth": 1.6}, "encoding": {"x": {"datum": 2001.3}, "x2": {"datum": 2007.8}, "y": {"datum": 5500}}},
       {"mark": {"type": "rule", "color": "#ff2020", "strokeWidth": 1.6, "strokeDash": [4,2]}, "encoding": {"x": {"datum": 2001.5}, "x2": {"datum": 2007.2}, "y": {"datum": 1000}}},
       {"mark": {"type": "text", "text": "NMÖ Helsingborg", "fontSize": 6, "color": "#111"}, "encoding": {"x": {"datum": 1984.3}, "y": {"datum": 20900}}},
       {"mark": {"type": "text", "text": "Råån", "fontSize": 6, "color": "#1a1aff"}, "encoding": {"x": {"datum": 1991.75}, "y": {"datum": 20900}}},
       {"mark": {"type": "text", "text": "med", "fontSize": 6, "color": "#111"}, "encoding": {"x": {"datum": 1994.1}, "y": {"datum": 20900}}},
       {"mark": {"type": "text", "text": "94,8 % jordbruksmark (JM)", "fontSize": 6, "color": "#ff1a1a"}, "encoding": {"x": {"datum": 1996.1}, "y": {"datum": 20900}}},
       {"mark": {"type": "text", "text": "y = -0,4752x + 23772", "color": "#8c8c8c"}, "encoding": {"x": {"datum": 1983.3}, "y": {"datum": 18000}}},
       {"mark": {"type": "text", "text": "R² = 0,0854", "color": "#8c8c8c"}, "encoding": {"x": {"datum": 1985.0}, "y": {"datum": 16700}}},
       {"mark": {"type": "text", "text": "medel tidigare 7,7 (7,00-8,39) mg TN/L", "color": "#ff00ff"}, "encoding": {"x": {"datum": 1993.6}, "y": {"datum": 19100}}},
       {"mark": {"type": "text", "text": "medel senaste 5,4 (4,74-6,00) mg TN/L", "color": "#111"}, "encoding": {"x": {"datum": 1993.6}, "y": {"datum": 17700}}},
       {"mark": {"type": "text", "text": "bakgrund JM 1,0 mg TN/L", "color": "#ff1a1a"}, "encoding": {"x": {"datum": 1993.6}, "y": {"datum": 15900}}}
      ]}
    ], "spacing": 0},
   {"hconcat": [
     {"width": 279, "height": 183, "view": {"stroke": "#222", "strokeWidth": 2},
      "title": {"text": "Oxiderat kväve", "offset": -26, "dx": 6},
      "data": {"values": [{}]},
      "layer": [
       {"mark": {"type": "rect", "fill": "transparent", "stroke": "#8a8a8a", "strokeWidth": 1.5},
        "encoding": {
         "x": {"datum": 1979, "type": "quantitative", "scale": {"domain": [1979, 2009], "range": [51.3, 241], "nice": false, "zero": false}, "axis": {"values": [1979,1981,1983,1985,1987,1989,1991,1993,1995,1997,1999,2001,2003,2005,2007,2009], "tickCount": 100, "format": "d", "offset": -18.7, "title": null, "labelOverlap": false}},
         "x2": {"datum": 2009},
         "y": {"datum": 0, "type": "quantitative", "scale": {"domain": [0, 20000], "range": [164.3, 42.3], "nice": false, "zero": false}, "axis": {"values": [0,5000,10000,15000,20000], "tickCount": 100, "format": "d", "offset": -51.3, "title": "NO2+3-N µg/l", "titleAngle": 90, "labelOverlap": false}},
         "y2": {"datum": 20000}}},
       {"data": {"values": [{"g":5000},{"g":10000},{"g":15000}]}, "mark": {"type": "rule", "strokeDash": [5,3], "strokeWidth": 1.3, "color": "#111"}, "encoding": {"y": {"field": "g", "type": "quantitative"}, "x": {"datum": 1979}, "x2": {"datum": 2009}}},
       {"data": {"name": "no3"}, "mark": {"type": "line", "color": "#a9b3ff", "strokeWidth": 3}, "encoding": {"x": {"field": "t", "type": "quantitative"}, "y": {"field": "v", "type": "quantitative"}}},
       {"data": {"name": "no3"}, "mark": {"type": "line", "color": "#1414f0", "strokeWidth": 1}, "encoding": {"x": {"field": "t", "type": "quantitative"}, "y": {"field": "v", "type": "quantitative"}}},
       {"data": {"values": [{"t":1979.5,"v":7800},{"t":2006.9,"v":5460}]}, "mark": {"type": "line", "color": "#222", "strokeWidth": 1.8}, "encoding": {"x": {"field": "t", "type": "quantitative"}, "y": {"field": "v", "type": "quantitative"}}},
       {"mark": {"type": "rule", "color": "#ff00ff", "strokeWidth": 1.6}, "encoding": {"x": {"datum": 1979.3}, "x2": {"datum": 1999.0}, "y": {"datum": 7900}}},
       {"mark": {"type": "rule", "color": "#111", "strokeWidth": 1.6}, "encoding": {"x": {"datum": 1999.7}, "x2": {"datum": 2006.7}, "y": {"datum": 4600}}},
       {"mark": {"type": "text", "text": "NMÖ Helsingborg", "fontSize": 6, "color": "#111"}, "encoding": {"x": {"datum": 1982.1}, "y": {"datum": 20700}}},
       {"mark": {"type": "text", "text": "Råån", "fontSize": 6, "color": "#1a1aff"}, "encoding": {"x": {"datum": 1990.1}, "y": {"datum": 20700}}},
       {"mark": {"type": "text", "text": "med", "fontSize": 6, "color": "#111"}, "encoding": {"x": {"datum": 1992.6}, "y": {"datum": 20700}}},
       {"mark": {"type": "text", "text": "94,8 % jordbruksmark (JM)", "fontSize": 6, "color": "#ff1a1a"}, "encoding": {"x": {"datum": 1994.8}, "y": {"datum": 20700}}},
       {"mark": {"type": "text", "text": "y = -0,2311x + 14038", "color": "#8c8c8c"}, "encoding": {"x": {"datum": 1979.55}, "y": {"datum": 19180}}},
       {"mark": {"type": "text", "text": "R² = 0,030", "color": "#8c8c8c"}, "encoding": {"x": {"datum": 1981.6}, "y": {"datum": 17910}}},
       {"mark": {"type": "text", "text": "medel tidigare 7,3 (6,72-7,83) mg NO3-N/L", "color": "#ff00ff"}, "encoding": {"x": {"datum": 1993.5}, "y": {"datum": 19390}}},
       {"mark": {"type": "text", "text": "medel senaste 4,8 (4,15-5,43) mg NO3-N/L", "color": "#111"}, "encoding": {"x": {"datum": 1993.5}, "y": {"datum": 18400}}}
      ]},
     {"width": 267, "height": 183, "view": {"stroke": "#222", "strokeWidth": 2},
      "title": {"text": "Reducerat kväve", "offset": -26, "dx": 7},
      "data": {"values": [{}]},
      "layer": [
       {"mark": {"type": "rect", "fill": "transparent", "stroke": "#8a8a8a", "strokeWidth": 1.5},
        "encoding": {
         "x": {"datum": 1982, "type": "quantitative", "scale": {"domain": [1982, 2010], "range": [47.3, 247.3], "nice": false, "zero": false}, "axis": {"values": [1982,1984,1986,1988,1990,1992,1994,1996,1998,2000,2002,2004,2006,2008,2010], "tickCount": 100, "format": "d", "offset": -19.7, "title": null, "labelOverlap": false}},
         "x2": {"datum": 2010},
         "y": {"datum": 0, "type": "quantitative", "scale": {"domain": [0, 1100], "range": [163.3, 42.3], "nice": false, "zero": false}, "axis": {"values": [0,100,200,300,400,500,600,700,800,900,1000,1100], "tickCount": 100, "format": "d", "offset": -47.3, "title": "NH4-N µg/l", "labelOverlap": false}},
         "y2": {"datum": 1100}}},
       {"data": {"values": [{"g":100},{"g":200},{"g":300},{"g":400},{"g":500},{"g":600},{"g":700},{"g":800},{"g":900},{"g":1000}]}, "mark": {"type": "rule", "strokeDash": [5,3], "strokeWidth": 1.3, "color": "#111"}, "encoding": {"y": {"field": "g", "type": "quantitative"}, "x": {"datum": 1982}, "x2": {"datum": 2010}}},
       {"data": {"name": "nh4"}, "mark": {"type": "line", "color": "#a9b3ff", "strokeWidth": 3}, "encoding": {"x": {"field": "t", "type": "quantitative"}, "y": {"field": "v", "type": "quantitative"}}},
       {"data": {"name": "nh4"}, "mark": {"type": "line", "color": "#1414f0", "strokeWidth": 1}, "encoding": {"x": {"field": "t", "type": "quantitative"}, "y": {"field": "v", "type": "quantitative"}}},
       {"data": {"values": [{"t":1982,"v":115},{"t":2007.4,"v":60}]}, "mark": {"type": "line", "color": "#222", "strokeWidth": 1.8}, "encoding": {"x": {"field": "t", "type": "quantitative"}, "y": {"field": "v", "type": "quantitative"}}},
       {"mark": {"type": "rule", "color": "#ff00ff", "strokeWidth": 1.6}, "encoding": {"x": {"datum": 1982}, "x2": {"datum": 2000}, "y": {"datum": 95}}},
       {"mark": {"type": "rule", "color": "#111", "strokeWidth": 1.6}, "encoding": {"x": {"datum": 2000.7}, "x2": {"datum": 2007.4}, "y": {"datum": 60}}},
       {"mark": {"type": "text", "text": "NMÖ Helsingborg", "fontSize": 6, "color": "#111"}, "encoding": {"x": {"datum": 1985.46}, "y": {"datum": 1130}}},
       {"mark": {"type": "text", "text": "Råån", "fontSize": 6, "color": "#1a1aff"}, "encoding": {"x": {"datum": 1992.5}, "y": {"datum": 1130}}},
       {"mark": {"type": "text", "text": "med", "fontSize": 6, "color": "#111"}, "encoding": {"x": {"datum": 1994.8}, "y": {"datum": 1130}}},
       {"mark": {"type": "text", "text": "94,8 % jordbruksmark (JM)", "fontSize": 6, "color": "#ff1a1a"}, "encoding": {"x": {"datum": 1996.66}, "y": {"datum": 1130}}},
       {"mark": {"type": "text", "text": "y = -0,0078x + 248,88", "color": "#8c8c8c"}, "encoding": {"x": {"datum": 1990.9}, "y": {"datum": 1023}}},
       {"mark": {"type": "text", "text": "R² = 0,0443", "color": "#8c8c8c"}, "encoding": {"x": {"datum": 1992.74}, "y": {"datum": 969}}},
       {"mark": {"type": "text", "text": "medel tidigare 92 (70-115) µg NH4-N/L", "color": "#ff00ff"}, "encoding": {"x": {"datum": 1996.5}, "y": {"datum": 751}}},
       {"mark": {"type": "text", "text": "medel senaste 54 (47-61) µg NH4-N/L", "color": "#111"}, "encoding": {"x": {"datum": 1996.5}, "y": {"datum": 691}}}
      ]}
    ], "spacing": 0},
   {"hconcat": [
     {"width": 279, "height": 190, "view": {"stroke": "#222", "strokeWidth": 2},
      "title": {"text": "Andel oxiderat kväve relativt totalkväve", "offset": -28, "dx": 6},
      "data": {"values": [{}]},
      "layer": [
       {"mark": {"type": "rect", "fill": "transparent", "stroke": "#8a8a8a", "strokeWidth": 1.5},
        "encoding": {
         "x": {"datum": 1982, "type": "quantitative", "scale": {"domain": [1982, 2010], "range": [46.3, 251.3], "nice": false, "zero": false}, "axis": {"values": [1982,1984,1986,1988,1990,1992,1994,1996,1998,2000,2002,2004,2006,2008,2010], "tickCount": 100, "format": "d", "offset": -18.5, "title": null, "labelOverlap": false}},
         "x2": {"datum": 2010},
         "y": {"datum": 0, "type": "quantitative", "scale": {"domain": [0, 1.5], "range": [171.5, 43.2], "nice": false, "zero": false}, "axis": {"values": [0,0.25,0.5,0.75,1,1.25,1.5], "tickCount": 100, "labelExpr": "replace(format(datum.value, '.2f'), '.', ',')", "offset": -46.3, "title": "NO2+3-N/Tot-N g/g", "labelOverlap": false}},
         "y2": {"datum": 1.5}}},
       {"data": {"values": [{"g":0.25},{"g":0.5},{"g":0.75},{"g":1.0},{"g":1.25}]}, "mark": {"type": "rule", "strokeDash": [5,3], "strokeWidth": 1.3, "color": "#111"}, "encoding": {"y": {"field": "g", "type": "quantitative"}, "x": {"datum": 1982}, "x2": {"datum": 2010}}},
       {"data": {"name": "frac"}, "mark": {"type": "line", "color": "#a9b3ff", "strokeWidth": 3}, "encoding": {"x": {"field": "t", "type": "quantitative"}, "y": {"field": "v", "type": "quantitative"}}},
       {"data": {"name": "frac"}, "mark": {"type": "line", "color": "#1414f0", "strokeWidth": 1}, "encoding": {"x": {"field": "t", "type": "quantitative"}, "y": {"field": "v", "type": "quantitative"}}},
       {"data": {"values": [{"t":1982,"v":0.99},{"t":2007.6,"v":0.89}]}, "mark": {"type": "line", "color": "#555", "strokeWidth": 1.8}, "encoding": {"x": {"field": "t", "type": "quantitative"}, "y": {"field": "v", "type": "quantitative"}}},
       {"mark": {"type": "rule", "color": "#ff00ff", "strokeWidth": 1.6}, "encoding": {"x": {"datum": 1987.9}, "x2": {"datum": 2000.0}, "y": {"datum": 0.95}}},
       {"mark": {"type": "rule", "color": "#111", "strokeWidth": 1.6}, "encoding": {"x": {"datum": 2000.9}, "x2": {"datum": 2007.3}, "y": {"datum": 0.866}}},
       {"mark": {"type": "text", "text": "NMÖ Helsingborg", "fontSize": 6, "color": "#111"}, "encoding": {"x": {"datum": 1985.37}, "y": {"datum": 1.54}}},
       {"mark": {"type": "text", "text": "Råån", "fontSize": 6, "color": "#1a1aff"}, "encoding": {"x": {"datum": 1992.27}, "y": {"datum": 1.54}}},
       {"mark": {"type": "text", "text": "med", "fontSize": 6, "color": "#111"}, "encoding": {"x": {"datum": 1994.45}, "y": {"datum": 1.54}}},
       {"mark": {"type": "text", "text": "94,8 % jordbruksmark (JM)", "fontSize": 6, "color": "#ff1a1a"}, "encoding": {"x": {"datum": 1996.3}, "y": {"datum": 1.54}}},
       {"mark": {"type": "text", "text": "y = -1E-05x + 1,3088", "color": "#8c8c8c"}, "encoding": {"x": {"datum": 1983.15}, "y": {"datum": 1.4}}},
       {"mark": {"type": "text", "text": "R² = 0,0157", "color": "#8c8c8c"}, "encoding": {"x": {"datum": 1984.73}, "y": {"datum": 1.325}}},
       {"mark": {"type": "text", "text": "NO23-N/TN medel tidigare 0,95 g/g (0,93-0,96)", "color": "#ff00ff"}, "encoding": {"x": {"datum": 1990.87}, "y": {"datum": 0.214}}},
       {"mark": {"type": "text", "text": "NO23-N/TN medel senaste 0,87 g/g (0,84-0,91)", "color": "#111"}, "encoding": {"x": {"datum": 1990.87}, "y": {"datum": 0.085}}}
      ]},
     {"width": 267, "height": 190, "view": {"stroke": "#222", "strokeWidth": 2},
      "title": {"text": "Kvoten totalkäve:totalfosfor", "offset": -28, "dx": 7},
      "data": {"values": [{}]},
      "layer": [
       {"mark": {"type": "rect", "fill": "transparent", "stroke": "#8a8a8a", "strokeWidth": 1.5},
        "encoding": {
         "x": {"datum": 1982, "type": "quantitative", "scale": {"domain": [1982, 2010], "range": [45.7, 249], "nice": false, "zero": false}, "axis": {"values": [1982,1984,1986,1988,1990,1992,1994,1996,1998,2000,2002,2004,2006,2008,2010], "tickCount": 100, "format": "d", "offset": -20.2, "title": null, "labelOverlap": false}},
         "x2": {"datum": 2010},
         "y": {"datum": 0, "type": "quantitative", "scale": {"domain": [0, 300], "range": [169.8, 43.2], "nice": false, "zero": false}, "axis": {"values": [0,100,200,300], "tickCount": 100, "format": "d", "offset": -45.7, "title": "TN/TP g/g", "labelOverlap": false}},
         "y2": {"datum": 300}}},
       {"data": {"values": [{"g":100},{"g":200}]}, "mark": {"type": "rule", "strokeDash": [5,3], "strokeWidth": 1.3, "color": "#111"}, "encoding": {"y": {"field": "g", "type": "quantitative"}, "x": {"datum": 1982}, "x2": {"datum": 2010}}},
       {"data": {"name": "np"}, "mark": {"type": "line", "color": "#a9b3ff", "strokeWidth": 3}, "encoding": {"x": {"field": "t", "type": "quantitative"}, "y": {"field": "v", "type": "quantitative"}}},
       {"data": {"name": "np"}, "mark": {"type": "line", "color": "#1414f0", "strokeWidth": 1}, "encoding": {"x": {"field": "t", "type": "quantitative"}, "y": {"field": "v", "type": "quantitative"}}},
       {"data": {"values": [{"t":1982,"v":72},{"t":2007.3,"v":67}]}, "mark": {"type": "line", "color": "#666", "strokeWidth": 1.8}, "encoding": {"x": {"field": "t", "type": "quantitative"}, "y": {"field": "v", "type": "quantitative"}}},
       {"mark": {"type": "rule", "color": "#ff00ff", "strokeWidth": 1.6}, "encoding": {"x": {"datum": 1987.3}, "x2": {"datum": 2001.0}, "y": {"datum": 68}}},
       {"mark": {"type": "rule", "color": "#111", "strokeWidth": 1.6}, "encoding": {"x": {"datum": 2001.0}, "x2": {"datum": 2007.3}, "y": {"datum": 58}}},
       {"mark": {"type": "text", "text": "NMÖ Helsingborg", "fontSize": 6, "color": "#111"}, "encoding": {"x": {"datum": 1985.2}, "y": {"datum": 306}}},
       {"mark": {"type": "text", "text": "Råån", "fontSize": 6, "color": "#1a1aff"}, "encoding": {"x": {"datum": 1992.16}, "y": {"datum": 306}}},
       {"mark": {"type": "text", "text": "med", "fontSize": 6, "color": "#111"}, "encoding": {"x": {"datum": 1994.36}, "y": {"datum": 306}}},
       {"mark": {"type": "text", "text": "94,8 % jordbruksmark (JM)", "fontSize": 6, "color": "#ff1a1a"}, "encoding": {"x": {"datum": 1996.22}, "y": {"datum": 306}}},
       {"mark": {"type": "text", "text": "y = -0,0003x + 79,483", "color": "#8c8c8c"}, "encoding": {"x": {"datum": 1983.14}, "y": {"datum": 290}}},
       {"mark": {"type": "text", "text": "R² = 0,0001", "color": "#8c8c8c"}, "encoding": {"x": {"datum": 1984.75}, "y": {"datum": 275}}},
       {"mark": {"type": "text", "text": "TN/TP medel tidigare 66 g/g (61-70)", "color": "#ff00ff"}, "encoding": {"x": {"datum": 1992.55}, "y": {"datum": 280}}},
       {"mark": {"type": "text", "text": "TN/TP medel senaste 58 g/g (53-75)", "color": "#111"}, "encoding": {"x": {"datum": 1992.55}, "y": {"datum": 261}}}
      ]}
    ], "spacing": 0}
  ], "spacing": 0}
 ], "spacing": 14}
]
}
